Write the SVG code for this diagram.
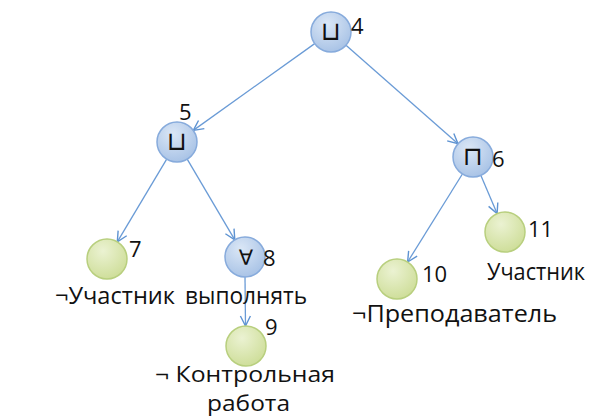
<svg xmlns="http://www.w3.org/2000/svg" width="595" height="417" viewBox="0 0 595 417">
  <defs>
    <radialGradient id="gBlue" cx="0.4" cy="0.3" r="0.75">
      <stop offset="0" stop-color="#dbe7f6"/>
      <stop offset="1" stop-color="#a6c1e5"/>
    </radialGradient>
    <radialGradient id="gGreen" cx="0.4" cy="0.3" r="0.75">
      <stop offset="0" stop-color="#ebf2d2"/>
      <stop offset="1" stop-color="#cddd97"/>
    </radialGradient>
    <marker id="arrow" markerUnits="userSpaceOnUse" markerWidth="14" markerHeight="14" refX="11" refY="6" orient="auto">
      <path d="M1,1 L11,6 L1,11" fill="none" stroke="#5e93d2" stroke-width="1.4"/>
    </marker>
    <style>
      .blue { fill: url(#gBlue); stroke: #87abdc; stroke-width: 1.5; }
      .green { fill: url(#gGreen); stroke: #b8cf7e; stroke-width: 1.5; }
      .sym { font-family: "DejaVu Sans", sans-serif; font-size: 26px; fill: #111; text-anchor: middle; }
      .all { font-family: "DejaVu Sans", sans-serif; font-size: 21px; fill: #111; text-anchor: middle; }
      .num { font-family: "Open Sans", "Liberation Sans", sans-serif; font-size: 22px; fill: #111; }
      .lbl { font-family: "Open Sans", "Liberation Sans", sans-serif; font-size: 24px; fill: #111; }
      .two { font-size: 22px; }
      .edge { stroke: #6a9bd6; stroke-width: 1.3; fill: none; marker-end: url(#arrow); }
    </style>
  </defs>

  <g id="connectors">
    <line class="edge" x1="314.7" y1="43.6" x2="193.3" y2="130.4"/>
    <line class="edge" x1="346" y1="45.2" x2="458" y2="143.8"/>
    <line class="edge" x1="166.7" y1="159.2" x2="117.3" y2="241.8"/>
    <line class="edge" x1="187.2" y1="159.2" x2="234.8" y2="239.8"/>
    <line class="edge" x1="462.4" y1="174" x2="407.6" y2="262"/>
    <line class="edge" x1="480.9" y1="175.4" x2="497.1" y2="213.6"/>
    <line class="edge" x1="245" y1="277" x2="245.5" y2="326"/>
  </g>

  <g id="node4">
    <circle class="blue" cx="331" cy="32" r="20"/>
    <text class="sym" x="331" y="40">⊔</text>
    <text class="num" x="351" y="34">4</text>
  </g>
  <g id="node5">
    <circle class="blue" cx="177" cy="142" r="20"/>
    <text class="sym" x="177" y="150">⊔</text>
    <text class="num" x="179" y="120">5</text>
  </g>
  <g id="node6">
    <circle class="blue" cx="473" cy="157" r="20"/>
    <text class="sym" x="473" y="165">⊓</text>
    <text class="num" x="492" y="167">6</text>
  </g>
  <g id="node7">
    <circle class="green" cx="107" cy="259" r="20"/>
    <text class="num" x="129" y="257">7</text>
    <text class="lbl" x="55" y="304" textLength="120" lengthAdjust="spacingAndGlyphs">¬Участник</text>
  </g>
  <g id="node8">
    <circle class="blue" cx="245" cy="257" r="20"/>
    <text class="all" x="246" y="265">∀</text>
    <text class="num" x="263" y="266">8</text>
    <text class="lbl" x="185" y="304" textLength="122" lengthAdjust="spacingAndGlyphs">выполнять</text>
  </g>
  <g id="node9">
    <circle class="green" cx="246" cy="346" r="20"/>
    <text class="num" x="265" y="335">9</text>
    <text class="lbl two" x="155" y="382" textLength="180" lengthAdjust="spacingAndGlyphs">¬ Контрольная</text>
    <text class="lbl two" x="207" y="411" textLength="83" lengthAdjust="spacingAndGlyphs">работа</text>
  </g>
  <g id="node10">
    <circle class="green" cx="397" cy="279" r="20"/>
    <text class="num" x="422" y="282">10</text>
    <text class="lbl" x="352" y="322" textLength="205" lengthAdjust="spacingAndGlyphs">¬Преподаватель</text>
  </g>
  <g id="node11">
    <circle class="green" cx="505" cy="232" r="20"/>
    <text class="num" x="528" y="237">11</text>
    <text class="lbl" x="487" y="280" textLength="98" lengthAdjust="spacingAndGlyphs">Участник</text>
  </g>
</svg>
